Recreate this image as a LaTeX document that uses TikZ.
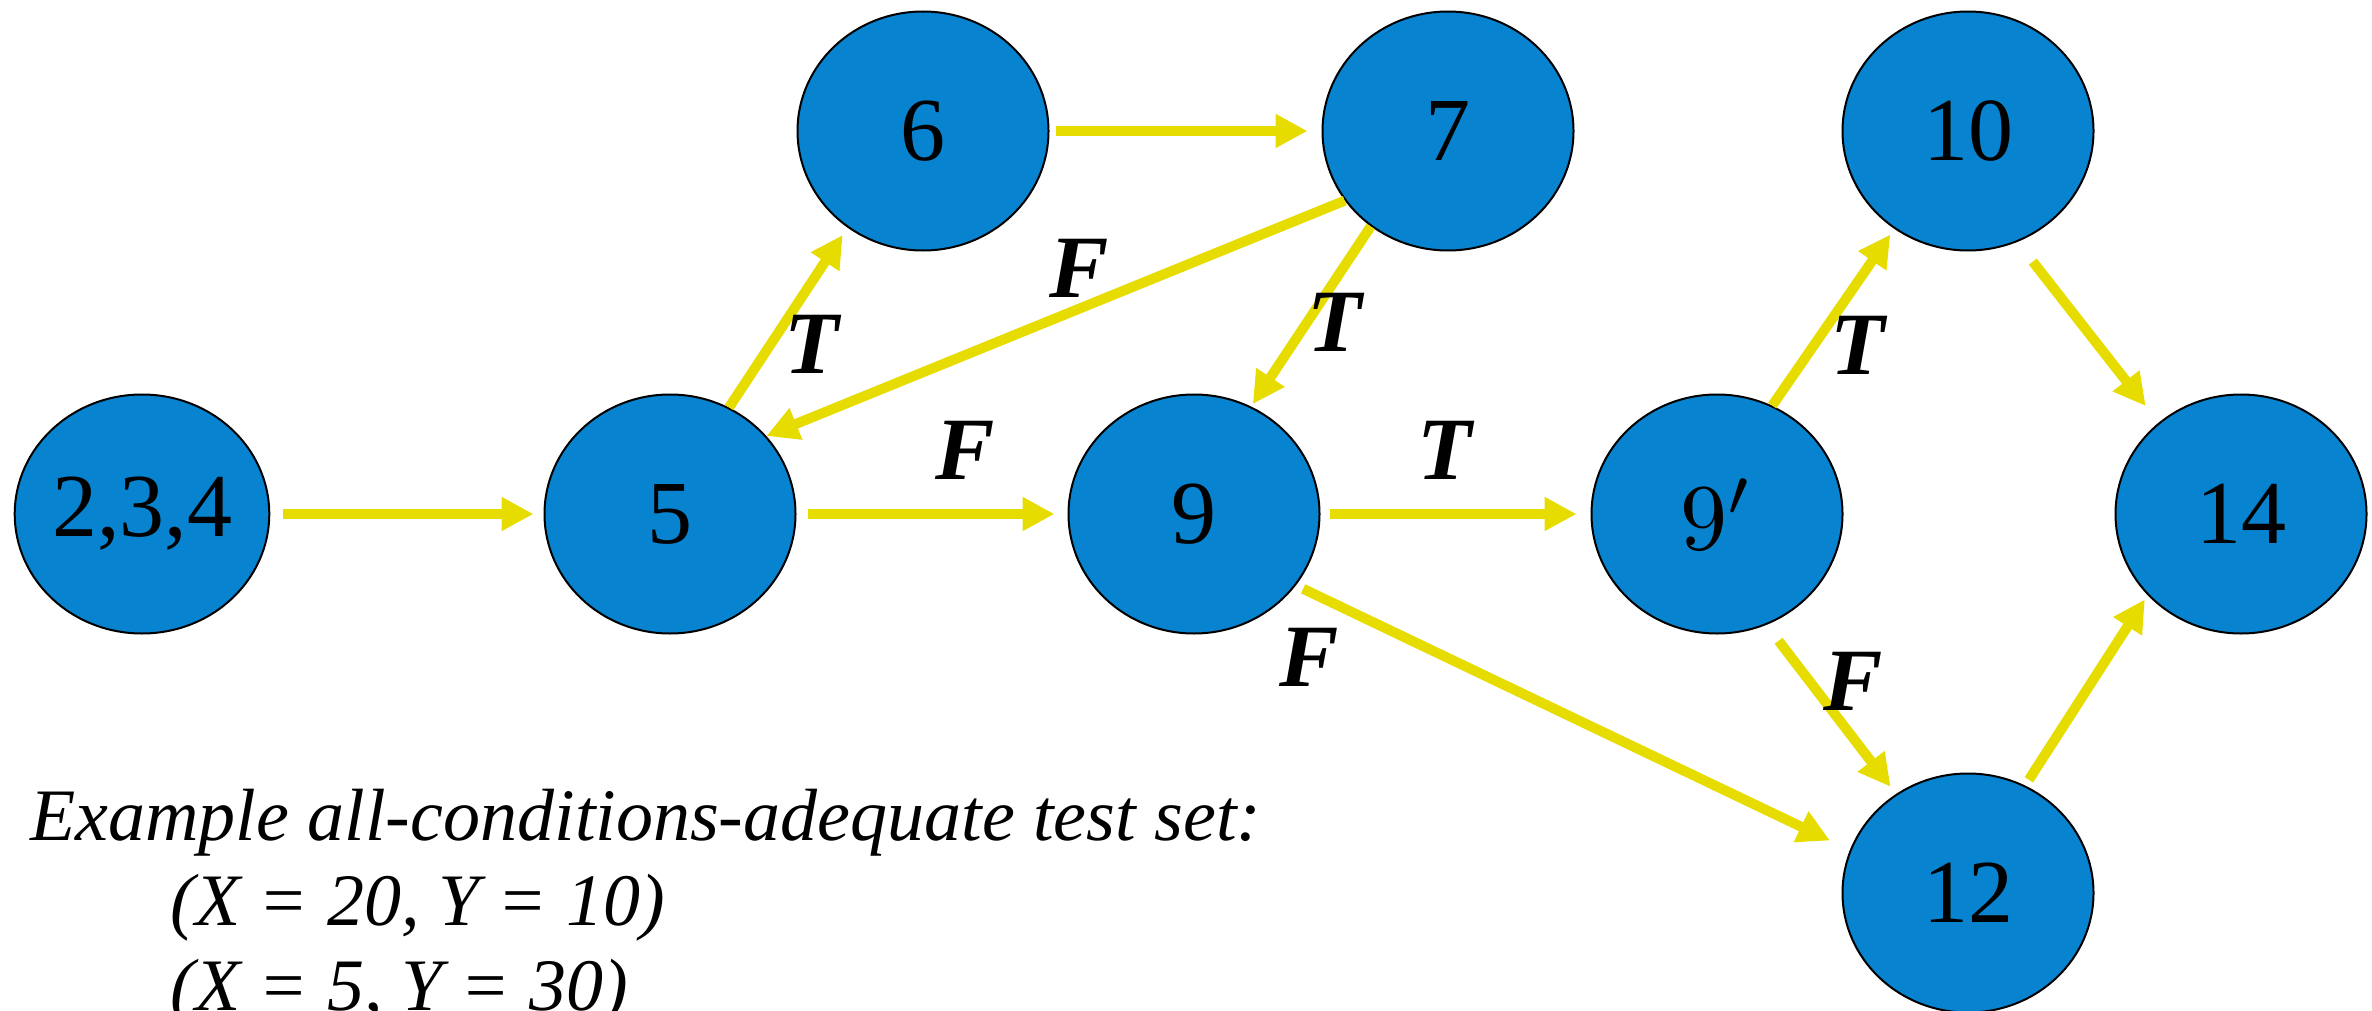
\documentclass[tikz,border=0pt]{standalone}
\usepackage{fontspec}
\usepackage{graphicx}
\setmainfont{Liberation Serif}
\usetikzlibrary{shapes.geometric,arrows.meta}
\definecolor{nodeblue}{HTML}{0783CF}
\definecolor{edgeyellow}{HTML}{E6DC00}
\begin{document}
\begin{tikzpicture}[x=0.5pt,y=-0.5pt,
  blk/.style={ellipse,draw=black,line width=1pt,fill=nodeblue,
    minimum width=125.5pt,minimum height=119.5pt,inner sep=0pt,
    font=\fontsize{45}{45}\selectfont},
  edge/.style={draw=edgeyellow,line width=5pt,
    -{Triangle[length=16pt,width=16pt]}},
  lbl/.style={font=\fontsize{44.5}{44.5}\selectfont\bfseries\itshape,inner sep=0pt},
  note/.style={font=\fontsize{37}{37}\selectfont\itshape,inner sep=0pt,anchor=base west}]
\useasboundingbox (0,0) rectangle (2372,1011);

% flow-graph blocks
\node[blk] (n234) at (142,514) {2,3,4};
\node[blk] (n5)   at (670,514) {5};
\node[blk] (n6)   at (923,131) {6};
\node[blk] (n7)   at (1448,131) {7};
\node[blk] (n9)   at (1194,514) {9};
\node[blk] (n9p)  at (1717,514) {\scalebox{4.7}{\fontsize{10}{12}\selectfont$9'$}};
\node[blk] (n10)  at (1968,131) {10};
\node[blk] (n14)  at (2241,514) {14};
\node[blk] (n12)  at (1968,893) {12};

% edges
\draw[edge, shorten <=6.5pt, shorten >=5pt] (n234) -- (n5);
\draw[edge, shorten <=5.5pt, shorten >=6.5pt] (n5) -- (n9);
\draw[edge, shorten <=4.5pt, shorten >=7pt] (n9) -- (n9p);
\draw[edge, shorten <=3pt, shorten >=7pt] (n6) -- (n7);
\draw[edge, shorten >=4.4pt] (n5.61) -- (n6.232);
\draw[edge] (n7.214) -- (n5.39);
\draw[edge, shorten >=1.5pt] (n7.231) -- (n9.62);
\draw[edge, shorten <=4pt, shorten >=11pt] (n9.-35) -- (n12.160);
\draw[edge, shorten >=3.4pt] (n9p.63) -- (n10.233);
\draw[edge, shorten <=10pt, shorten >=4.5pt] (n9p.-66) -- (n12.126);
\draw[edge, shorten <=12.5pt, shorten >=10.5pt] (n10.-66) -- (n14.132);
\draw[edge, shorten <=3.4pt, shorten >=2.5pt] (n12.62) -- (n14.221);

% branch labels
\node[lbl] (lf75)   at (1079,268) {F};
\node[lbl] (lt56)   at (812,344)  {T};
\node[lbl] (lt79)   at (1335,322) {T};
\node[lbl] (lf59)   at (965,450)  {F};
\node[lbl] (lt99)   at (1445,450) {T};
\node[lbl] (lf912)  at (1309,657) {F};
\node[lbl] (lt910)  at (1858,345) {T};
\node[lbl] (lf912b) at (1853,681) {F};

% test set
\node[note] (cap) at (30,840)  {Example all-conditions-adequate test set:};
\node[note] (tc1) at (170,925) {(X = 20, Y = 10)};
\node[note] (tc2) at (170,1010) {(X = 5, Y = 30)};
\end{tikzpicture}
\end{document}
